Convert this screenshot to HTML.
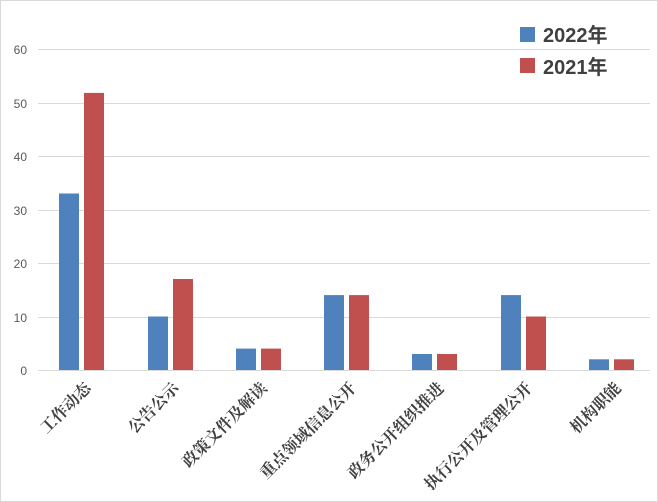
<!DOCTYPE html>
<html><head><meta charset="utf-8"><style>body{margin:0;background:#fff}svg{display:block}</style></head><body>
<svg width="658" height="502" xmlns="http://www.w3.org/2000/svg">
<rect x="0.5" y="0.5" width="657" height="501" fill="#fff" stroke="#d9d9d9"/>
<g stroke="#d9d9d9" stroke-width="1">
<line x1="38" x2="650" y1="49.5" y2="49.5"/><line x1="38" x2="650" y1="103.5" y2="103.5"/><line x1="38" x2="650" y1="156.5" y2="156.5"/><line x1="38" x2="650" y1="210.5" y2="210.5"/><line x1="38" x2="650" y1="263.5" y2="263.5"/><line x1="38" x2="650" y1="317.5" y2="317.5"/><line x1="38" x2="650" y1="370.5" y2="370.5"/>
</g>
<g font-family="Liberation Sans, sans-serif" font-size="12" fill="#595959" text-anchor="end">
<text x="27" y="54">60</text><text x="27" y="108">50</text><text x="27" y="161">40</text><text x="27" y="215">30</text><text x="27" y="268">20</text><text x="27" y="322">10</text><text x="27" y="375">0</text>
</g>
<g fill="#4f81bd">
<rect x="59" y="193.5" width="20" height="176.5"/>
<rect x="148" y="316.5" width="20" height="53.5"/>
<rect x="236" y="348.6" width="20" height="21.4"/>
<rect x="324" y="295.1" width="20" height="74.9"/>
<rect x="412" y="354" width="20" height="16"/>
<rect x="501" y="295.1" width="20" height="74.9"/>
<rect x="589" y="359.3" width="20" height="10.7"/>
</g>
<g fill="#c0504d">
<rect x="84" y="92.9" width="20" height="277.1"/>
<rect x="173" y="279" width="20" height="91"/>
<rect x="261" y="348.6" width="20" height="21.4"/>
<rect x="349" y="295.1" width="20" height="74.9"/>
<rect x="437" y="354" width="20" height="16"/>
<rect x="526" y="316.5" width="20" height="53.5"/>
<rect x="614" y="359.3" width="20" height="10.7"/>
</g>
<g font-family="Liberation Serif, Noto Serif CJK SC, serif" font-size="16" font-weight="bold" fill="#404040" text-anchor="end">
<text transform="translate(92,389) rotate(-45)">工作动态</text>
<text transform="translate(180,389) rotate(-45)">公告公示</text>
<text transform="translate(268,389) rotate(-45)">政策文件及解读</text>
<text transform="translate(357,389) rotate(-45)">重点领域信息公开</text>
<text transform="translate(445,389) rotate(-45)">政务公开组织推进</text>
<text transform="translate(533,389) rotate(-45)">执行公开及管理公开</text>
<text transform="translate(622,389) rotate(-45)">机构职能</text>
</g>
<rect x="520" y="27" width="15" height="15" fill="#4f81bd"/>
<rect x="520" y="58" width="15" height="15" fill="#c0504d"/>
<g font-family="Liberation Sans, Noto Sans CJK SC, sans-serif" font-size="20" font-weight="bold" fill="#404040">
<text x="543" y="42">2022年</text>
<text x="543" y="74">2021年</text>
</g>
</svg>
</body></html>
